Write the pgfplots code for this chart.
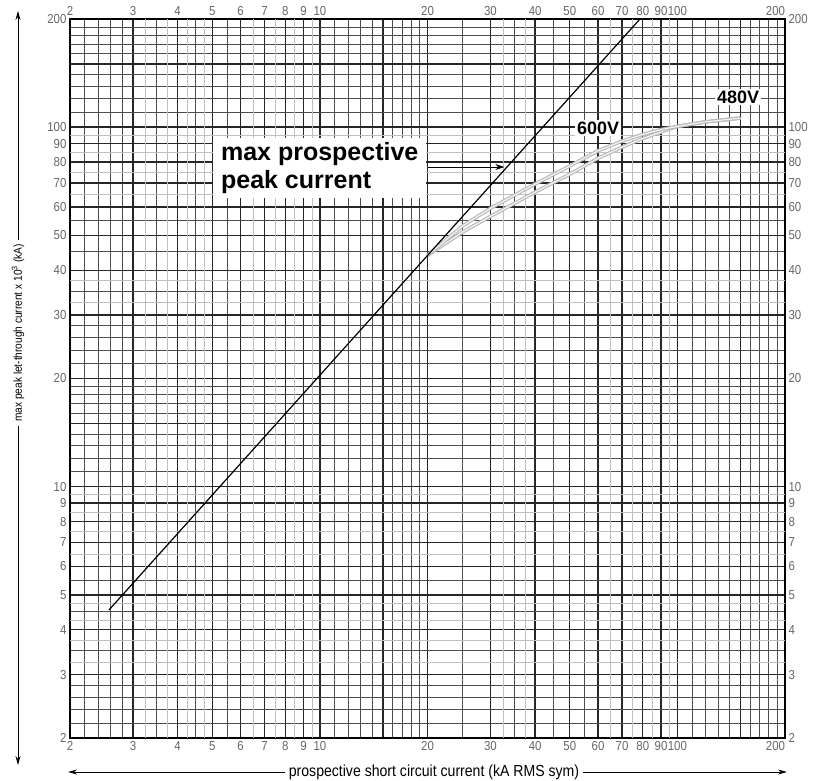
\documentclass[border=0pt]{standalone}
\usepackage{pgfplots}
\pgfplotsset{compat=1.18}
\usepackage{fontspec}
\setmainfont{Liberation Sans}
\newfontfamily\narrow[FakeStretch=0.88]{Liberation Sans}
\usetikzlibrary{arrows.meta}

\begin{document}
\begin{tikzpicture}
\useasboundingbox (-70pt,-43pt) rectangle (755pt,738pt);
\begin{axis}[
  scale only axis, width=715pt, height=719pt,
  xmode=log, ymode=log, xmin=2, xmax=200, ymin=2, ymax=200,
  xtick={2,3,4,5,6,7,8,9,10,15,20,30,40,50,60,70,80,90,100,150,200},
  xticklabels={2,3,4,5,6,7,8,9,10,,20,30,40,50,60,70,80,90,100,,\makebox[0pt][r]{200}},
  ytick={2,3,4,5,6,7,8,9,10,15,20,30,40,50,60,70,80,90,100,150,200},
  yticklabels={2,3,4,5,6,7,8,9,10,,20,30,40,50,60,70,80,90,100,,200},
  major tick length=0pt, minor tick length=0pt,
  tick label style={font=\narrow\fontsize{13}{13}\selectfont, text=black!60},
  minor xtick={2.2,2.4,2.6,2.8,3.5,4.5,5.5,11,12,13,14,16,17,18,19,25,35,45,55,110,120,130,140,160,170,180,190},
  minor ytick={2.2,2.4,2.6,2.8,3.5,4.5,5.5,11,12,13,14,16,17,18,19,22,24,26,28,35,45,55,110,120,130,140,160,170,180,190},
  extra x ticks={3.25,3.75,4.25,4.75,6.5,7.5,8.5,9.5,32.5,37.5,65,75,85,95},
  extra y ticks={3.25,3.75,4.25,4.75,6.5,7.5,8.5,9.5,32.5,37.5,65,75,85,95},
  extra x tick labels={}, extra y tick labels={},
  extra tick style={grid=major, major grid style={black!25, line width=0.7pt}},
  grid=both,
  major grid style={black!85, line width=1.4pt},
  minor grid style={black!70, line width=0.9pt},
  axis line style={black, line width=1.4pt},
  xticklabel pos=lower, yticklabel pos=left,
]
% 480V curve (lower)
\addplot[gray!55, line width=1.2pt, double=gray!6, double distance=1.1pt] coordinates {
  (20,44) (25,51) (30,56.5) (40,66) (50,74) (60,82) (70,88) (80,93) (90,97) (100,100.5) (120,103.5) (150,106)
};
% 600V curve (upper)
\addplot[gray!55, line width=1.2pt, double=gray!6, double distance=1.1pt] coordinates {
  (20,44) (25,53) (30,59.5) (40,69.5) (50,78) (60,86) (70,91.5) (80,95.5) (90,98.5) (100,100.5) (120,103.5) (150,106)
};
% max prospective peak current
\addplot[black, line width=1.2pt] coordinates {(2.57,4.54) (78.6,200)};

\node[fill=white, inner xsep=8pt, inner ysep=4pt, align=left, anchor=west,
      font=\bfseries\fontsize{25}{28}\selectfont] at (axis cs:5.02,77) {max prospective\\peak current};
\draw[black, line width=0.8pt, -{Stealth[length=9pt,width=6pt]}] (axis cs:20,77.5) -- (axis cs:32.8,77.5);
\node[fill=white, inner sep=2pt, font=\bfseries\fontsize{18}{18}\selectfont] at (axis cs:60,99.5) {600V};
\node[fill=white, inner sep=2pt, font=\bfseries\fontsize{18}{18}\selectfont] at (axis cs:147.8,121.4) {480V};
\end{axis}
\begin{axis}[
  scale only axis, width=715pt, height=719pt,
  xmode=log, ymode=log, xmin=2, xmax=200, ymin=2, ymax=200,
  xtick={2,3,4,5,6,7,8,9,10,15,20,30,40,50,60,70,80,90,100,150,200},
  xticklabels={2,3,4,5,6,7,8,9,10,,20,30,40,50,60,70,80,90,100,,\makebox[0pt][r]{200}},
  ytick={2,3,4,5,6,7,8,9,10,15,20,30,40,50,60,70,80,90,100,150,200},
  yticklabels={2,3,4,5,6,7,8,9,10,,20,30,40,50,60,70,80,90,100,,200},
  major tick length=0pt, minor tick length=0pt,
  tick label style={font=\narrow\fontsize{13}{13}\selectfont, text=black!60},
  xticklabel pos=upper, yticklabel pos=right,
  axis line style={draw=none},
]
\end{axis}
% axis label arrows
\draw[line width=0.9pt, {Stealth[length=9pt,width=5pt]}-{Stealth[length=9pt,width=5pt]}] (-52pt,-27pt) -- (-52pt,727pt);
\node[fill=white, rotate=90, inner sep=4pt, font=\narrow\fontsize{11.5}{11.5}\selectfont] at (-52pt,405pt)
  {max peak let-through current x 10\textsuperscript{3} (kA)};
\draw[line width=0.9pt, {Stealth[length=9pt,width=5pt]}-{Stealth[length=9pt,width=5pt]}] (-2pt,-34pt) -- (717pt,-34pt);
\node[fill=white, inner sep=4pt, font=\narrow\fontsize{16}{16}\selectfont] at (364pt,-34pt)
  {prospective short circuit current (kA RMS sym)};
\end{tikzpicture}
\end{document}
